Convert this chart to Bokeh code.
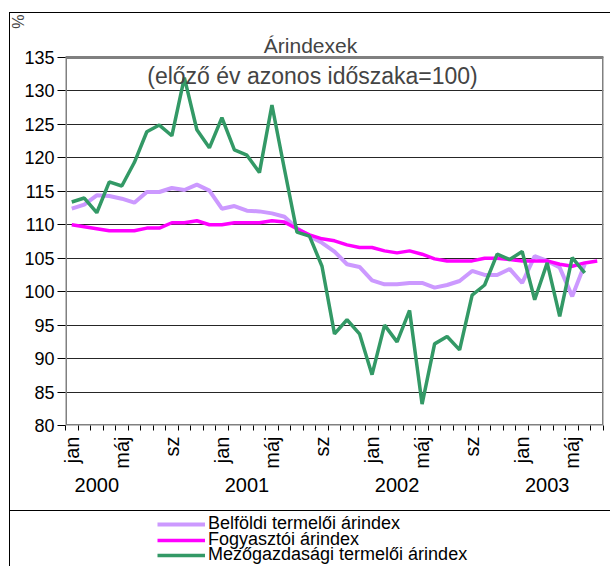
from math import pi
from bokeh.plotting import figure
from bokeh.layouts import column
from bokeh.models import Range1d, FixedTicker, Label, Legend, LegendItem, LinearAxis, Title
from bokeh.embed import file_html
from bokeh.resources import INLINE

# ---------------- data ----------------
months = list(range(43))  # jan 2000 ... jul 2003
belfoldi = [112.4, 113.0, 114.4, 114.3, 113.9, 113.3, 114.9, 114.9, 115.5, 115.2, 116.0, 115.1,
            112.4, 112.8, 112.1, 112.0, 111.7, 111.2, 109.5, 108.3, 107.3, 106.0, 104.1, 103.7,
            101.7, 101.1, 101.1, 101.3, 101.3, 100.6, 101.0, 101.6, 103.1, 102.5, 102.5, 103.4,
            101.3, 105.3, 104.6, 103.6, 99.3, 104.1]
fogyasztoi = [110.0, 109.7, 109.4, 109.1, 109.1, 109.1, 109.5, 109.5, 110.3, 110.3, 110.6, 110.0,
              110.0, 110.3, 110.3, 110.3, 110.6, 110.4, 109.4, 108.5, 107.9, 107.6, 107.0, 106.6,
              106.6, 106.1, 105.8, 106.1, 105.6, 104.9, 104.6, 104.6, 104.6, 105.0, 105.0, 104.8,
              104.6, 104.6, 104.6, 104.1, 103.8, 104.3, 104.6]
mezogazdasagi = [113.4, 114.0, 111.8, 116.4, 115.8, 119.3, 123.9, 124.9, 123.3, 132.0, 124.2, 121.5,
                 126.0, 121.2, 120.4, 117.8, 127.9, 118.3, 108.9, 108.3, 103.8, 93.7, 95.8, 93.7,
                 87.6, 95.0, 92.5, 97.2, 83.2, 92.2, 93.3, 91.3, 99.5, 101.0, 105.6, 104.8,
                 106.0, 98.8, 104.3, 96.3, 105.1, 102.8]
tick_labels = ["jan", "máj", "sz", "jan", "máj", "sz", "jan", "máj", "sz", "jan", "máj"]
years = ["2000", "2001", "2002", "2003"]
series_names = ["Belföldi termelői árindex", "Fogyasztói árindex", "Mezőgazdasági termelői árindex"]
series_colors = ["#CC99FF", "#FF00FF", "#339966"]
series_values = [belfoldi, fogyasztoi, mezogazdasagi]
y_ticks = list(range(80, 136, 5))
title_text = "Árindexek"
subtitle_text = "(előző év azonos időszaka=100)"
unit_text = "%"

# ---------------- layout ----------------
FONT = "Liberation Sans"
OX, OY = 10, 13                 # canvas origin on the page (after border)
PW, PH = 600, 497               # main figure size
FL, FT, FW, FH = 55, 0, 538, 412  # frame inside main canvas
Y_PX_PER_UNIT = 368 / 55
X0, X1 = -0.5, 42.5
Y0 = min(y_ticks)
Y1 = Y0 + FH / Y_PX_PER_UNIT

def dx(px):  # page px -> data x
    return X0 + (px - OX - FL) / FW * (X1 - X0)

def dy(py):  # page py -> data y
    return Y1 - (py - OY - FT) / Y_PX_PER_UNIT

p = figure(width=PW, height=PH, output_backend="svg", toolbar_location=None,
           x_range=Range1d(X0, X1), y_range=Range1d(Y0, Y1),
           min_border_left=FL, min_border_right=PW - FL - FW,
           min_border_top=FT, min_border_bottom=PH - FT - FH)
p.outline_line_color = None
p.background_fill_color = "white"
p.border_fill_color = "white"

# month axis
p.xaxis.ticker = FixedTicker(ticks=[i * 4 for i in range(len(tick_labels))],
                             minor_ticks=[i - 0.5 for i in range(len(months) + 1)])
p.xaxis.major_label_overrides = {i * 4: t for i, t in enumerate(tick_labels)}
p.xaxis.major_label_orientation = pi / 2
p.xaxis.major_tick_line_color = None
p.xaxis.major_tick_out = 0
p.xaxis.major_tick_in = 0
p.xaxis.minor_tick_out = 5
p.xaxis.minor_tick_in = 0
p.xaxis.minor_tick_line_color = "black"
p.xaxis.axis_line_color = None
p.xaxis.major_label_standoff = 6
p.xaxis.major_label_text_font = FONT
p.xaxis.major_label_text_font_size = "20px"
p.xaxis.major_label_text_color = "black"

# year axis
year_axis = LinearAxis(ticker=FixedTicker(ticks=[12 * k + 2 for k in range(len(years))]),
                       major_label_overrides={12 * k + 2: y for k, y in enumerate(years)},
                       axis_line_color=None, major_tick_line_color=None, minor_tick_line_color=None,
                       major_tick_out=0, major_tick_in=0, major_label_standoff=6,
                       major_label_text_font=FONT, major_label_text_font_size="20px",
                       major_label_text_color="black")
p.add_layout(year_axis, "below")

# y axis
p.yaxis.ticker = FixedTicker(ticks=y_ticks)
p.yaxis.axis_line_color = None
p.yaxis.major_tick_out = 8
p.yaxis.major_tick_in = 0
p.yaxis.major_tick_line_color = "black"
p.yaxis.minor_tick_line_color = None
p.yaxis.major_label_standoff = 3
p.yaxis.major_label_text_font = FONT
p.yaxis.major_label_text_font_size = "18px"
p.yaxis.major_label_text_color = "black"

p.add_layout(Title(text=unit_text, align="right", standoff=-10, text_font=FONT,
                   text_font_size="16px", text_font_style="normal", offset=1), "left")

p.xgrid.grid_line_color = None
p.ygrid.ticker = FixedTicker(ticks=y_ticks)
p.ygrid.grid_line_color = "black"
p.ygrid.grid_line_alpha = 0.85
p.ygrid.grid_line_width = 1

# plot-area border (gray)
p.quad(left=[X0], right=[X1], bottom=[min(y_ticks)], top=[max(y_ticks)],
       fill_color=None, line_color="#808080", line_width=3)

# series
widths = [4, 3.5, 3.5]
for vals, col, w in zip(series_values, series_colors, widths):
    p.line(months[:len(vals)], vals, line_color=col, line_width=w)

# titles inside the (extended) frame
p.add_layout(Label(x=dx(310), y=dy(45), text=title_text, text_align="center",
                   text_baseline="middle", text_font=FONT, text_font_size="21px"))
p.add_layout(Label(x=dx(312), y=dy(75), text=subtitle_text, text_align="center",
                   text_baseline="middle", text_font=FONT, text_font_size="23px"))

# ---------------- legend figure ----------------
QH = 56
q = figure(width=PW, height=QH, output_backend="svg", toolbar_location=None,
           x_range=Range1d(0, PW), y_range=Range1d(0, QH),
           x_axis_type=None, y_axis_type=None, min_border=0,
           styles={"border-top": "1px solid black"})
q.outline_line_color = None
q.xgrid.grid_line_color = None
q.ygrid.grid_line_color = None
LEGEND_X = 92
for name, vals, col, w, cy in zip(series_names, series_values, series_colors, widths, [526, 542, 557]):
    # same series, drawn outside this panel's y-range (only its legend sample is visible)
    r = q.line(months[:len(vals)], vals, line_color=col, line_width=w)
    h = 16
    canvas_cy = cy - (OY + PH + 1)
    lg = Legend(items=[LegendItem(label=name, renderers=[r])],
                location=(LEGEND_X, QH - canvas_cy - h / 2),
                padding=0, margin=0, spacing=0, label_standoff=3,
                glyph_width=48, glyph_height=h, label_height=h,
                border_line_color=None, background_fill_alpha=0,
                label_text_font=FONT, label_text_font_size="18px", label_text_line_height=0.9,
                label_text_color="black")
    q.add_layout(lg)

layout = column(p, q, spacing=0,
                styles={"margin-left": "9px", "margin-top": "12px",
                        "border-left": "1px solid black", "border-top": "1px solid black"})

open("out.html", "w").write(file_html(layout, INLINE))
